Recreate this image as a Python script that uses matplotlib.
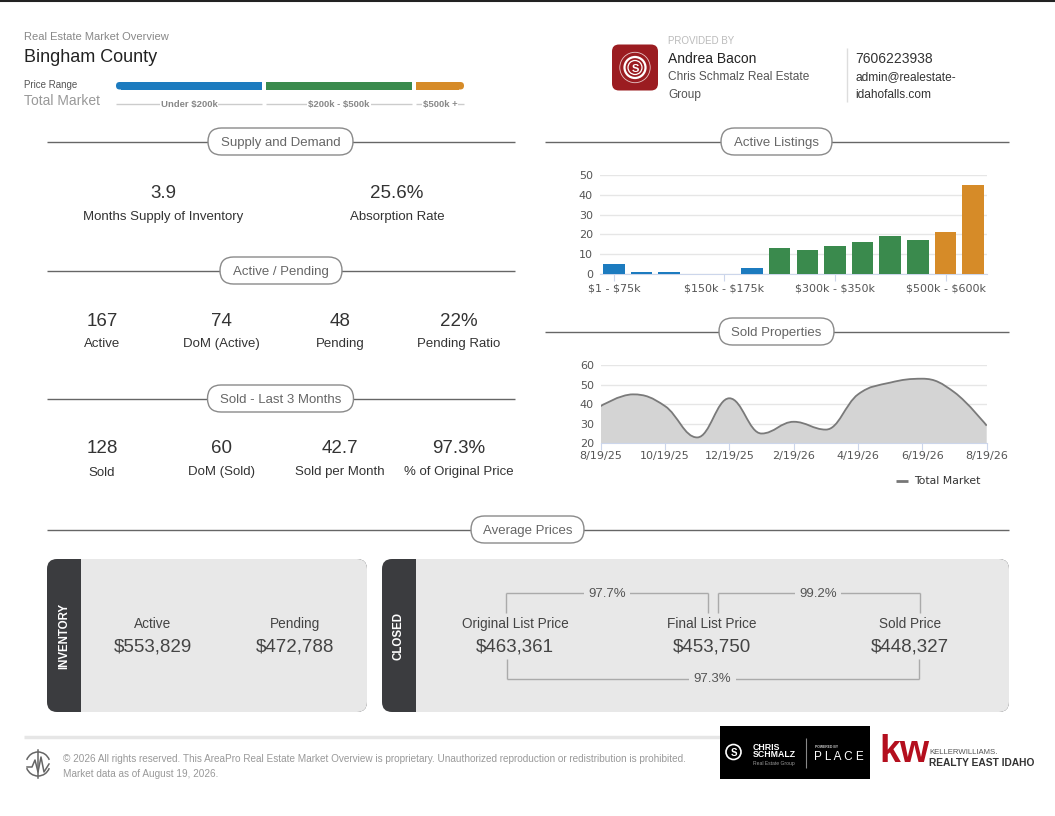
import numpy as np
import matplotlib
matplotlib.use("Agg")
import matplotlib.pyplot as plt
from matplotlib.patches import FancyBboxPatch, Rectangle, Circle, Arc
from matplotlib.path import Path
from matplotlib.patches import PathPatch

# ---------------- data ----------------
county = "Bingham County"
price_tiers = ["Under $200k", "$200k - $500k", "$500k +"]

supply_labels = ["Months Supply of Inventory", "Absorption Rate"]
supply_values = ["3.9", "25.6%"]

active_labels = ["Active", "DoM (Active)", "Pending", "Pending Ratio"]
active_values = ["167", "74", "48", "22%"]

sold_labels = ["Sold", "DoM (Sold)", "Sold per Month", "% of Original Price"]
sold_values = ["128", "60", "42.7", "97.3%"]

listing_ranges = ["$1 - $75k", "$75k - $100k", "$100k - $125k", "$125k - $150k",
                  "$150k - $175k", "$175k - $200k", "$200k - $250k", "$250k - $300k",
                  "$300k - $350k", "$350k - $400k", "$400k - $450k", "$450k - $500k",
                  "$500k - $600k", "$600k +"]
listing_counts = [5, 1, 1, 0, 0, 3, 13, 12, 14, 16, 19, 17, 21, 45]
listing_tier = [0, 0, 0, 0, 0, 0, 1, 1, 1, 1, 1, 1, 2, 2]

sold_months = ["8/19/25", "9/19/25", "10/19/25", "11/19/25", "12/19/25", "1/19/26",
               "2/19/26", "3/19/26", "4/19/26", "5/19/26", "6/19/26", "7/19/26", "8/19/26"]
sold_counts = [39, 45, 39, 23, 43, 25, 31, 27, 45, 51, 53, 46, 29]

inventory_labels = ["Active", "Pending"]
inventory_prices = ["$553,829", "$472,788"]
closed_labels = ["Original List Price", "Final List Price", "Sold Price"]
closed_prices = ["$463,361", "$453,750", "$448,327"]
closed_ratios = ["97.7%", "99.2%", "97.3%"]

# ---------------- style ----------------
W, H = 1055, 816
SANS = ["Liberation Sans", "DejaVu Sans"]
CH = ["DejaVu Sans"]
TIER_COLORS = ["#1c7bbf", "#3a8a4d", "#d68b28"]

fig = plt.figure(figsize=(W / 100, H / 100), dpi=100)
fig.patch.set_facecolor("white")
bg = fig.add_axes([0, 0, 1, 1])
bg.set_xlim(0, W)
bg.set_ylim(H, 0)
bg.axis("off")


def T(x, y, s, size, color="#333333", ha="center", va="center", weight="normal",
      family=SANS, dy=1.5, **kw):
    return bg.text(x, y + dy, s, fontsize=size, color=color, ha=ha, va=va,
                   fontweight=weight, family=family, parse_math=False, **kw)


def L(x0, y0, x1, y1, color="#666666", lw=1.0, **kw):
    bg.plot([x0, x1], [y0, y1], color=color, lw=lw, solid_capstyle="butt", **kw)


def rbox(x0, y0, x1, y1, r, fc, ec="none", lw=0, z=1):
    p = FancyBboxPatch((x0, y0), x1 - x0, y1 - y0,
                       boxstyle=f"round,pad=0,rounding_size={r}",
                       fc=fc, ec=ec, lw=lw, zorder=z)
    bg.add_patch(p)


def section(title, cx, y, x0, x1, half_w):
    L(x0, y, x1, y, color="#666666", lw=1.0)
    rbox(cx - half_w, y - 13.5, cx + half_w, y + 13.5, 13.5, "white", ec="#8a8a8a", lw=1.0, z=3)
    T(cx, y, title, 9.5, color="#666666", zorder=4)


def esc(s):
    return s.replace("$", r"\$")


# top border
L(0, 1, W, 1, color="#222222", lw=1.5)

# ---------------- header ----------------
T(24, 35, "Real Estate Market Overview", 8, color="#888888", ha="left")
T(24, 56, county, 13, color="#222222", ha="left")
T(24, 83, "Price Range", 7, color="#555555", ha="left")
T(24, 99.5, "Total Market", 10, color="#999999", ha="left")

tier_spans = [(116, 262), (266, 412), (416, 464)]
for i, (a, b) in enumerate(tier_spans):
    c = TIER_COLORS[i]
    if i == 0:
        rbox(a, 82, a + 12, 89.5, 3.7, c, z=2)
        bg.add_patch(Rectangle((a + 5, 82), b - a - 5, 7.5, fc=c, ec="none", zorder=2))
    elif i == 2:
        rbox(b - 12, 82, b, 89.5, 3.7, c, z=2)
        bg.add_patch(Rectangle((a, 82), b - a - 5, 7.5, fc=c, ec="none", zorder=2))
    else:
        bg.add_patch(Rectangle((a, 82), b - a, 7.5, fc=c, ec="none", zorder=2))
    L(a, 104, b, 104, color="#cccccc", lw=1.0)
    T((a + b) / 2, 104, price_tiers[i], 6.8, color="#888888", weight="bold",
      bbox=dict(fc="white", ec="none", pad=0.6), zorder=3, dy=0.5)

# provided by block
rbox(612, 44.5, 658, 90.5, 7, "#9b1c21", z=2)
bg.add_patch(Circle((635, 67.5), 15.2, fc="none", ec="#e8c9ca", lw=0.6, zorder=3))
bg.add_patch(Circle((635, 67.5), 10.5, fc="none", ec="white", lw=1.6, zorder=3))
bg.add_patch(Circle((635, 67.5), 7.0, fc="none", ec="white", lw=0.9, zorder=3))
T(635, 67, "S", 8, color="white", weight="bold", zorder=4)
T(668, 40, "PROVIDED BY", 7, color="#bbbbbb", ha="left")
T(668, 57.5, "Andrea Bacon", 10, color="#222222", ha="left")
T(668, 76, "Chris Schmalz Real Estate", 8.6, color="#555555", ha="left")
T(668, 93.5, "Group", 8.6, color="#555555", ha="left")
L(847, 48, 847, 102, color="#dddddd", lw=1.0)
T(855, 57.5, "7606223938", 10, color="#333333", ha="left")
T(855, 76, "admin@realestate-", 8.6, color="#333333", ha="left")
T(855, 93.5, "idahofalls.com", 8.6, color="#333333", ha="left")

# ---------------- left statistics ----------------
section("Supply and Demand", 280.5, 141.5, 47, 515, 72.5)
for x, v, lab in zip([163, 397], supply_values, supply_labels):
    T(x, 191.5, v, 13.5, color="#333333")
    T(x, 215.5, lab, 9.5, color="#333333")

section("Active / Pending", 281, 270.5, 47, 515, 61)
for x, v, lab in zip([102, 221, 340, 459], active_values, active_labels):
    T(x, 320, v, 13.5, color="#333333")
    T(x, 342.5, lab, 9.5, color="#333333")

section("Sold - Last 3 Months", 280.5, 398.5, 47, 515, 73)
for x, v, lab in zip([102, 221, 340, 459], sold_values, sold_labels):
    T(x, 447, v, 13.5, color="#333333")
    T(x, 471, lab, 9.5, color="#333333")

# ---------------- right charts ----------------
section("Active Listings", 776.5, 141.5, 545, 1009, 55.5)
section("Sold Properties", 776.5, 331.5, 545, 1009, 57.5)

ax1 = fig.add_axes([600 / W, 1 - 274 / H, 387 / W, 99 / H])
xi = np.arange(len(listing_counts))
ax1.bar(xi, listing_counts, width=0.78, color=[TIER_COLORS[t] for t in listing_tier],
        zorder=3)
ax1.set_xlim(-0.5, len(listing_counts) - 0.5)
ax1.set_ylim(0, 50)
ax1.set_yticks([0, 10, 20, 30, 40, 50])
ax1.yaxis.grid(True, color="#e6e6e6", lw=1.0)
ax1.set_axisbelow(True)
tick_idx = [0, 4, 8, 12]
ax1.set_xticks(tick_idx)
ax1.set_xticklabels([esc(listing_ranges[i]) for i in tick_idx])
for s in ["top", "right", "left"]:
    ax1.spines[s].set_visible(False)
ax1.spines["bottom"].set_color("#ccd6eb")
ax1.tick_params(axis="y", length=0, pad=5, labelsize=8, labelcolor="#555555")
ax1.tick_params(axis="x", length=5, color="#ccd6eb", pad=1.5, labelsize=8,
                labelcolor="#555555")
for lab in ax1.get_xticklabels() + ax1.get_yticklabels():
    lab.set_family(CH)
ax1.patch.set_alpha(0)


def hc_spline(xs, ys, smoothing=1.5):
    """Highcharts-style spline path through the given points."""
    n = len(xs)
    lc = [None] * n
    rc = [None] * n
    denom = smoothing + 1
    for i in range(1, n - 1):
        px, py = xs[i], ys[i]
        lx, ly = xs[i - 1], ys[i - 1]
        nx, ny = xs[i + 1], ys[i + 1]
        lcx = (smoothing * px + lx) / denom
        lcy = (smoothing * py + ly) / denom
        rcx = (smoothing * px + nx) / denom
        rcy = (smoothing * py + ny) / denom
        if rcx != lcx:
            corr = ((rcy - lcy) * (rcx - px)) / (rcx - lcx) + py - rcy
            lcy += corr
            rcy += corr
        if lcy > ly and lcy > py:
            lcy = max(ly, py); rcy = 2 * py - lcy
        elif lcy < ly and lcy < py:
            lcy = min(ly, py); rcy = 2 * py - lcy
        if rcy > ny and rcy > py:
            rcy = max(ny, py); lcy = 2 * py - rcy
        elif rcy < ny and rcy < py:
            rcy = min(ny, py); lcy = 2 * py - rcy
        lc[i] = (lcx, lcy)
        rc[i] = (rcx, rcy)
    verts = [(xs[0], ys[0])]
    codes = [Path.MOVETO]
    for i in range(1, n):
        c1 = rc[i - 1] if rc[i - 1] is not None else (xs[i - 1], ys[i - 1])
        c2 = lc[i] if lc[i] is not None else (xs[i], ys[i])
        verts += [c1, c2, (xs[i], ys[i])]
        codes += [Path.CURVE4] * 3
    return verts, codes


ax2 = fig.add_axes([600.7 / W, 1 - 443.3 / H, 386 / W, 78.3 / H])
sx = list(range(len(sold_counts)))
verts, codes = hc_spline(sx, sold_counts)
y0 = 20
area_v = verts + [(sx[-1], y0), (sx[0], y0), (sx[0], sold_counts[0])]
area_c = codes + [Path.LINETO, Path.LINETO, Path.CLOSEPOLY]
ax2.add_patch(PathPatch(Path(area_v, area_c), fc="#d4d4d4", ec="none", zorder=2))
ax2.add_patch(PathPatch(Path(verts, codes), fc="none", ec="#7a7a7a", lw=1.3, zorder=3))
ax2.set_xlim(0, len(sold_counts) - 1)
ax2.set_ylim(20, 60)
ax2.set_yticks([20, 30, 40, 50, 60])
ax2.yaxis.grid(True, color="#e6e6e6", lw=1.0)
ax2.set_axisbelow(True)
mt = list(range(0, len(sold_months), 2))
ax2.set_xticks(mt)
ax2.set_xticklabels([sold_months[i] for i in mt])
for s in ["top", "right", "left"]:
    ax2.spines[s].set_visible(False)
ax2.spines["bottom"].set_color("#ccd6eb")
ax2.tick_params(axis="y", length=0, pad=5, labelsize=8, labelcolor="#555555")
ax2.tick_params(axis="x", length=5, color="#ccd6eb", pad=0.5, labelsize=8,
                labelcolor="#555555")
for lab in ax2.get_xticklabels() + ax2.get_yticklabels():
    lab.set_family(CH)
ax2.patch.set_alpha(0)

L(896, 481, 908, 481, color="#777777", lw=2)
T(914, 481, "Total Market", 7.8, color="#333333", ha="left", family=CH, dy=0.5)

# ---------------- average prices ----------------
section("Average Prices", 527.5, 529.5, 47, 1009, 56.5)

BOX = "#e8e8e8"
DARK = "#3b3c3f"


def panel(x0, x1, band_r, label):
    rbox(x0, 559, x1, 712, 10, DARK, z=1)
    rbox(band_r, 559, x1, 712, 10, BOX, z=2)
    bg.add_patch(Rectangle((band_r, 559), 16, 153, fc=BOX, ec="none", zorder=2))
    T((x0 + band_r) / 2, 635.5, label, 8.3, color="white", weight="bold", rotation=90,
      zorder=4, dy=0)


panel(47, 367, 81, "INVENTORY")
for x, lab, v in zip([153, 295], inventory_labels, inventory_prices):
    T(x, 622.5, lab, 9.8, color="#444444", zorder=4)
    T(x, 645, v, 13.5, color="#444444", zorder=4)

panel(382, 1009, 416, "CLOSED")
for x, lab, v in zip([515, 712, 910], closed_labels, closed_prices):
    T(x, 622.5, lab, 9.8, color="#444444", zorder=4)
    T(x, 645, v, 13.5, color="#444444", zorder=4)

BR = "#aaaaaa"
# top-left bracket
L(505.5, 593, 707.5, 593, color=BR, lw=1, zorder=3)
L(505.5, 592.5, 505.5, 612.5, color=BR, lw=1, zorder=3)
L(707.5, 592.5, 707.5, 612.5, color=BR, lw=1, zorder=3)
T(607, 592.5, closed_ratios[0], 9.5, color="#555555", zorder=4,
  bbox=dict(fc=BOX, ec="none", pad=3))
# top-right bracket
L(717.5, 593, 919.5, 593, color=BR, lw=1, zorder=3)
L(717.5, 592.5, 717.5, 612.5, color=BR, lw=1, zorder=3)
L(919.5, 592.5, 919.5, 612.5, color=BR, lw=1, zorder=3)
T(818, 592.5, closed_ratios[1], 9.5, color="#555555", zorder=4,
  bbox=dict(fc=BOX, ec="none", pad=3))
# bottom bracket
L(506.5, 678.5, 918.5, 678.5, color=BR, lw=1, zorder=3)
L(506.5, 659, 506.5, 679, color=BR, lw=1, zorder=3)
L(918.5, 659, 918.5, 679, color=BR, lw=1, zorder=3)
T(712.5, 678, closed_ratios[2], 9.5, color="#555555", zorder=4,
  bbox=dict(fc=BOX, ec="none", pad=3))

# ---------------- footer ----------------
L(24, 737, 720, 737, color="#e6e6e6", lw=2.5)
# small tower icon
bg.add_patch(Arc((38, 764), 24, 24, theta1=200, theta2=340, ec="#666666", lw=1.1))
bg.add_patch(Arc((38, 764), 24, 24, theta1=20, theta2=160, ec="#666666", lw=1.1))
bg.plot([38, 38], [750, 778], color="#666666", lw=1.1)
bg.plot([27, 32, 35, 38, 41, 44, 49], [767, 767, 760, 772, 757, 772, 764], color="#666666", lw=1.1)
T(63, 757, "\u00a9 2026 All rights reserved. This AreaPro Real Estate Market Overview is proprietary. "
  "Unauthorized reproduction or redistribution is prohibited.", 7.2, color="#999999", ha="left")
T(63, 772.5, "Market data as of August 19, 2026.", 7.2, color="#999999", ha="left")

# Chris Schmalz / PLACE logo
bg.add_patch(Rectangle((720, 726), 150, 53, fc="black", ec="none", zorder=2))
bg.add_patch(Circle((733.5, 752), 7.5, fc="none", ec="white", lw=1.2, zorder=3))
T(733.5, 751, "S", 7, color="white", weight="bold", zorder=4)
T(753, 745.5, "CHRIS", 6.3, color="white", ha="left", weight="bold", zorder=4)
T(753, 753, "SCHMALZ", 6.3, color="white", ha="left", weight="bold", zorder=4)
T(753, 762.5, "Real Estate Group", 3.6, color="#999999", ha="left", zorder=4)
L(806, 738, 806, 768, color="#888888", lw=0.8, zorder=4)
T(815, 745.5, "POWERED BY", 2.4, color="#cccccc", ha="left", weight="bold", zorder=4)
T(814, 755, "P L A C E", 8.5, color="white", ha="left", zorder=4)

# Keller Williams logo
T(879, 750.5, "kw", 27, color="#b40f1e", ha="left", weight="bold", zorder=4)
T(929, 750.5, "KELLERWILLIAMS.", 5.6, color="#555555", ha="left", zorder=4)
T(929, 761, "REALTY EAST IDAHO", 7.4, color="#333333", ha="left", weight="bold", zorder=4)

fig.savefig("out.png", dpi=100, facecolor="white")
